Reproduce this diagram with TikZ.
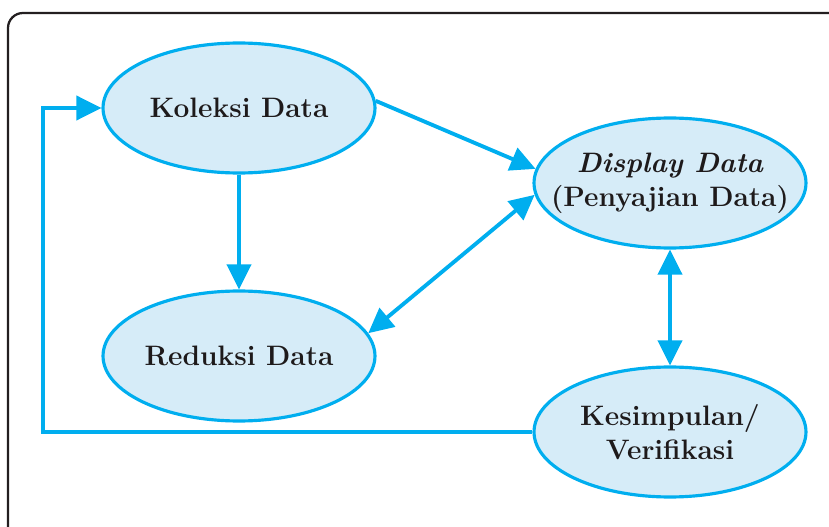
\documentclass[tikz,border=0pt]{standalone}
\usetikzlibrary{arrows.meta,shapes.geometric}

\begin{document}
\begin{tikzpicture}[x=0.02cm,y=-0.02cm,
  stage/.style={ellipse,draw=dg_cyan,line width=1.8pt,fill=dg_fill,
    minimum width=5.44cm,minimum height=2.6cm,inner xsep=-0.8cm,inner ysep=0pt,
    align=center,font=\fontsize{16}{19.4}\selectfont\bfseries,text=dg_text},
  flow/.style={draw=dg_cyan,line width=2.2pt,
    -{Triangle[length=0.5cm,width=0.48cm]}},
  both/.style={flow,{Triangle[length=0.5cm,width=0.48cm]}-{Triangle[length=0.5cm,width=0.48cm]}}]
% ------------------------------------------------ diagram colors
\definecolor{dg_cyan}{RGB}{0,174,239}    %#00AEEF
\definecolor{dg_fill}{RGB}{214,236,248}  %#D6ECF8
\definecolor{dg_frame}{RGB}{35,31,32}    %#231F20
\definecolor{dg_text}{RGB}{30,26,27}

\useasboundingbox (0,0) rectangle (829,527);

% ------------------------------------------------ frame
\draw [line width=1.3pt,color=dg_frame,rounded corners=0.3cm] (8,13) rectangle (845,545);

% ------------------------------------------------ stages
\node[stage] (kol) at (239,108) {Koleksi Data};
\node[stage] (dis) at (670,183) {{\itshape Display Data}\\(Penyajian Data)};
\node[stage] (red) at (239,356) {Reduksi Data};
\node[stage] (kes) at (670,432) {Kesimpulan/\\Verifikasi};

\coordinate (back) at (43,270);

% ------------------------------------------------ arrows
\draw [flow] (kol.3) -- (dis.174);
\draw [flow] (kol.south) -- (red.north);
\draw [both] (red.10) -- (dis.185);
\draw [both] (dis.south) -- (kes.north);
\draw [flow] (kes.west) -| (back) |- (kol.west);

\end{tikzpicture}
\end{document}
